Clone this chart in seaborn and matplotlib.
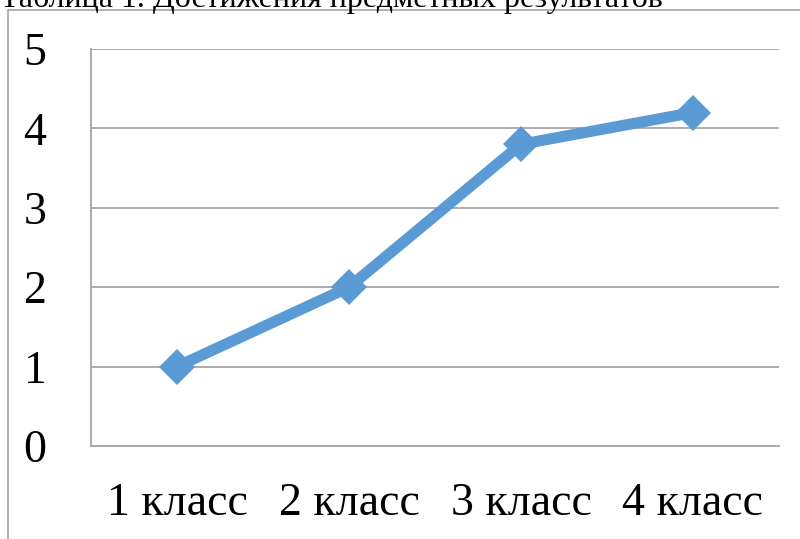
import matplotlib
matplotlib.use("Agg")
import matplotlib.pyplot as plt
import seaborn as sns
from matplotlib.patches import Rectangle

# данные
klassy = ["1 класс", "2 класс", "3 класс", "4 класс"]
znacheniya = [1, 2, 3.8, 4.2]
y_ticks = [0, 1, 2, 3, 4, 5]
zagolovok = "Таблица 1. Достижения предметных результатов"

sns.set_style("white")
plt.rcParams['font.family'] = ['Liberation Serif', 'DejaVu Serif']

W, H = 800, 539
fig = plt.figure(figsize=(8, 5.39), dpi=100)
ax = fig.add_axes([91 / W, 93 / H, 688 / W, 397 / H])

grid_col = "#a6a6a6"

sns.lineplot(x=klassy, y=znacheniya, ax=ax, sort=False, color="#5b9bd5",
             linewidth=8, marker="D", markersize=18, markeredgewidth=0)

ax.set_ylim(0, 5)
ax.set_xlim(-0.5, 3.5)
ax.set_yticks(y_ticks)
ax.set_yticklabels([str(v) for v in y_ticks])
ax.yaxis.grid(True, color=grid_col, linewidth=1.3)
ax.set_axisbelow(True)

ax.set_xticks(range(len(klassy)))
ax.set_xticklabels(klassy)
ax.set_xticks([i - 0.5 for i in range(len(klassy) + 1)], minor=True)
ax.tick_params(axis="x", which="major", length=0, pad=26, labelsize=33, labelcolor="black")
ax.tick_params(axis="x", which="minor", length=10, width=1.3, color=grid_col, direction="out")
ax.tick_params(axis="y", length=10, width=1.3, color=grid_col, direction="out", pad=22,
               labelsize=33, labelcolor="black")
ax.set_xlabel("")
ax.set_ylabel("")

for s in ["top", "right"]:
    ax.spines[s].set_visible(False)
for s in ["left", "bottom"]:
    ax.spines[s].set_color(grid_col)
    ax.spines[s].set_linewidth(1.3)

# рамка диаграммы
fig.patches.append(Rectangle((8 / W, -0.1), 1.0, (H - 10) / H + 0.1, transform=fig.transFigure,
                             fill=False, edgecolor=grid_col, linewidth=1.2))

fig.text(0, (H - 7) / H, zagolovok, fontsize=23, va="baseline", ha="left", color="black")

fig.savefig("out.png", dpi=100)
